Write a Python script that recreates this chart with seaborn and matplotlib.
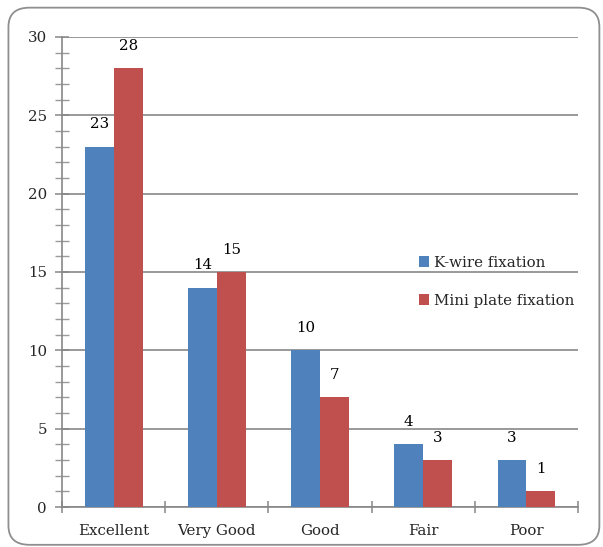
import matplotlib
matplotlib.use("Agg")
import matplotlib.pyplot as plt
from matplotlib.patches import FancyBboxPatch
from matplotlib.ticker import MultipleLocator, FixedLocator
import seaborn as sns
import pandas as pd

categories = ["Excellent", "Very Good", "Good", "Fair", "Poor"]
kwire = [23, 14, 10, 4, 3]
miniplate = [28, 15, 7, 3, 1]
series_names = ["K-wire fixation", "Mini plate fixation"]

df = pd.DataFrame({
    "Grade": categories * 2,
    "Count": kwire + miniplate,
    "Method": [series_names[0]] * len(categories) + [series_names[1]] * len(categories),
})

sns.set_theme(style="white")
plt.rcParams["font.family"] = ["DejaVu Serif"]

fig = plt.figure(figsize=(6.03, 5.47), dpi=100)
ax = fig.add_axes([0.103, 0.0731, 0.8555, 0.8593])

palette = {series_names[0]: "#4F81BD", series_names[1]: "#C0504D"}
sns.barplot(data=df, x="Grade", y="Count", hue="Method", order=categories,
            hue_order=series_names, palette=palette, width=0.56, saturation=1,
            linewidth=0, ax=ax, zorder=3)

fs = 10.8
for cont in ax.containers:
    ax.bar_label(cont, padding=11, fontsize=fs, color="black")

ax.set_ylim(0, 30)
ax.set_xlim(-0.5, len(categories) - 0.5)
ax.yaxis.set_major_locator(MultipleLocator(5))
ax.yaxis.set_minor_locator(MultipleLocator(1))
grid_grey = "#878787"
ax.grid(axis="y", color=grid_grey, linewidth=1.2, zorder=0)
ax.set_axisbelow(True)

for side in ["top", "right"]:
    ax.spines[side].set_visible(False)
for side in ["left", "bottom"]:
    ax.spines[side].set_color(grid_grey)
    ax.spines[side].set_linewidth(1.2)

ax.tick_params(axis="y", which="major", direction="inout", length=10, width=1.1,
               color=grid_grey, labelsize=fs, pad=6, left=True)
ax.tick_params(axis="y", which="minor", direction="inout", length=10, width=1.0,
               color="#9a9a9a", left=True)

# category boundary ticks on the x axis, labels centred without ticks
ax.xaxis.set_minor_locator(FixedLocator([i - 0.5 for i in range(len(categories) + 1)]))
ax.tick_params(axis="x", which="minor", direction="inout", length=8, width=1.1,
               color=grid_grey, bottom=True)
ax.tick_params(axis="x", which="major", length=0, labelsize=fs, pad=12)

ax.set_xlabel("")
ax.set_ylabel("")

leg = ax.legend(loc="upper left", bbox_to_anchor=(0.68, 0.547), frameon=False,
                fontsize=fs, handlelength=0.7, handleheight=0.7,
                handletextpad=0.3, labelspacing=1.6, borderaxespad=0)

border = FancyBboxPatch((0.014, 0.004), 0.98, 0.982, boxstyle="round,pad=0,rounding_size=0.035",
                        transform=fig.transFigure, facecolor="none",
                        edgecolor="#8f8f8f", linewidth=1.3, clip_on=False)
fig.patches.append(border)

fig.savefig("out.png", dpi=100)
